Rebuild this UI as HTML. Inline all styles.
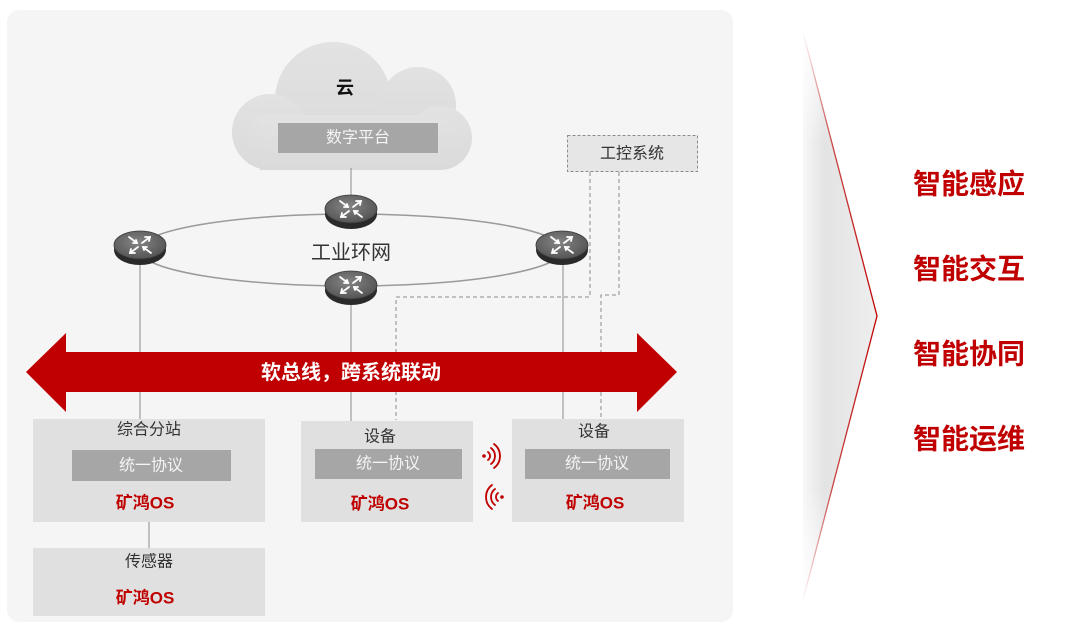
<!DOCTYPE html>
<html>
<head>
<meta charset="utf-8">
<style>
  html,body{margin:0;padding:0;background:#ffffff;}
  body{width:1080px;height:632px;overflow:hidden;}
  svg{display:block;}
  text{font-family:"Liberation Sans","Noto Sans CJK SC",sans-serif;}
</style>
</head>
<body>
<svg width="1080" height="632" viewBox="0 0 1080 632" xmlns="http://www.w3.org/2000/svg">
  <defs>
    <radialGradient id="rtop" cx="0.45" cy="0.4" r="0.7">
      <stop offset="0" stop-color="#858585"/>
      <stop offset="1" stop-color="#4c4c4c"/>
    </radialGradient>
    <linearGradient id="cloudg" x1="0" y1="0" x2="0" y2="1">
      <stop offset="0" stop-color="#e2e2e2"/>
      <stop offset="1" stop-color="#dadada"/>
    </linearGradient>
    <linearGradient id="chevH" gradientUnits="userSpaceOnUse" x1="795" y1="0" x2="880" y2="0">
      <stop offset="0" stop-color="#ffffff"/>
      <stop offset="0.35" stop-color="#e3e3e3"/>
      <stop offset="1" stop-color="#efefef"/>
    </linearGradient>
    <linearGradient id="chevV" gradientUnits="userSpaceOnUse" x1="0" y1="28" x2="0" y2="604">
      <stop offset="0" stop-color="#000"/>
      <stop offset="0.2" stop-color="#fff"/>
      <stop offset="0.8" stop-color="#fff"/>
      <stop offset="1" stop-color="#000"/>
    </linearGradient>
    <mask id="chevMask">
      <rect x="780" y="0" width="120" height="632" fill="url(#chevV)"/>
    </mask>
    <linearGradient id="redLine" gradientUnits="userSpaceOnUse" x1="0" y1="30" x2="0" y2="602">
      <stop offset="0" stop-color="#c00000" stop-opacity="0"/>
      <stop offset="0.2" stop-color="#c00000" stop-opacity="0.7"/>
      <stop offset="0.5" stop-color="#c00000" stop-opacity="1"/>
      <stop offset="0.8" stop-color="#c00000" stop-opacity="0.7"/>
      <stop offset="1" stop-color="#c00000" stop-opacity="0"/>
    </linearGradient>
    <g id="router">
      <ellipse cx="0" cy="5" rx="26" ry="15" fill="#2a2a2a"/>
      <ellipse cx="0" cy="0" rx="26" ry="14" fill="url(#rtop)" stroke="#3a3a3a" stroke-width="0.8"/>
      <g stroke="#ffffff" stroke-width="1.8" fill="none" stroke-linecap="round">
        <line x1="2" y1="-2" x2="10" y2="-8"/>
        <polyline points="5,-8 10,-8 9,-4"/>
        <line x1="-2" y1="2" x2="-10" y2="8"/>
        <polyline points="-5,8 -10,8 -9,4"/>
        <line x1="-11" y1="-8" x2="-3" y2="-2"/>
        <polyline points="-7,-2 -3,-2 -4,-5"/>
        <line x1="11" y1="8" x2="3" y2="2"/>
        <polyline points="7,2 3,2 4,5"/>
      </g>
    </g>
  </defs>

  <!-- left panel -->
  <rect x="7" y="10" width="726" height="612" rx="12" ry="12" fill="#f5f5f5"/>

  <!-- right chevron -->
  <polygon points="803,30 878,316 803,602" fill="url(#chevH)" mask="url(#chevMask)"/>
  <polyline points="803,32 877,316 803,600" fill="none" stroke="url(#redLine)" stroke-width="1.3"/>

  <!-- cloud -->
  <g fill="url(#cloudg)">
    <circle cx="333" cy="100" r="58"/>
    <circle cx="270" cy="132" r="38"/>
    <circle cx="418" cy="105" r="38"/>
    <circle cx="440" cy="138" r="32"/>
    <rect x="248" y="115" width="210" height="55" rx="20" ry="20"/>
    <rect x="260" y="120" width="180" height="50"/>
  </g>
  <text x="345" y="88" font-size="18" font-weight="bold" fill="#111" text-anchor="middle" dominant-baseline="central">云</text>
  <rect x="278" y="123" width="160" height="30" fill="#a6a6a6"/>
  <text x="358" y="138" font-size="16" fill="#f4f4f4" text-anchor="middle" dominant-baseline="central">数字平台</text>

  <!-- cloud to router -->
  <line x1="351" y1="168" x2="351" y2="198" stroke="#8a8a8a" stroke-width="1"/>

  <!-- 工控系统 -->
  <rect x="567.5" y="135.5" width="130" height="36" fill="#e6e6e6" stroke="#8c8c8c" stroke-width="1" stroke-dasharray="3,2"/>
  <text x="632" y="154" font-size="16" fill="#333" text-anchor="middle" dominant-baseline="central">工控系统</text>

  <!-- dashed connectors -->
  <g fill="none" stroke="#8c8c8c" stroke-width="1" stroke-dasharray="4,3">
    <polyline points="590,172 590,297 396,297 396,420"/>
    <polyline points="619,172 619,295 601,295 601,420"/>
  </g>

  <!-- solid verticals -->
  <g stroke="#8a8a8a" stroke-width="1">
    <line x1="140" y1="262" x2="140" y2="419"/>
    <line x1="351" y1="300" x2="351" y2="421"/>
    <line x1="563" y1="262" x2="563" y2="419"/>
    <line x1="149" y1="522" x2="149" y2="548"/>
  </g>

  <!-- ring -->
  <ellipse cx="351" cy="250" rx="212" ry="36" fill="none" stroke="#9a9a9a" stroke-width="1.5"/>
  <text x="351" y="253" font-size="20" fill="#333" text-anchor="middle" dominant-baseline="central">工业环网</text>

  <!-- routers -->
  <use href="#router" x="351" y="209"/>
  <use href="#router" x="140" y="245"/>
  <use href="#router" x="562" y="245"/>
  <use href="#router" x="351" y="285"/>

  <!-- red double arrow -->
  <polygon points="26,372 66,333 66,352 637,352 637,333 677,372 637,412 637,392 66,392 66,412" fill="#c00000"/>
  <text x="351" y="373" font-size="20" font-weight="bold" fill="#ffffff" text-anchor="middle" dominant-baseline="central">软总线，跨系统联动</text>

  <!-- 综合分站 box -->
  <rect x="33" y="419" width="232" height="103" fill="#e0e0e0"/>
  <text x="149" y="430" font-size="16" fill="#333" text-anchor="middle" dominant-baseline="central">综合分站</text>
  <rect x="72" y="450" width="159" height="31" fill="#a6a6a6"/>
  <text x="151" y="466" font-size="16" fill="#f4f4f4" text-anchor="middle" dominant-baseline="central">统一协议</text>
  <text x="145" y="503" font-size="17" font-weight="bold" fill="#c00000" text-anchor="middle" dominant-baseline="central">矿鸿OS</text>

  <!-- 传感器 box -->
  <rect x="33" y="548" width="232" height="68" fill="#e0e0e0"/>
  <text x="149" y="562" font-size="16" fill="#333" text-anchor="middle" dominant-baseline="central">传感器</text>
  <text x="145" y="598" font-size="17" font-weight="bold" fill="#c00000" text-anchor="middle" dominant-baseline="central">矿鸿OS</text>

  <!-- middle device -->
  <rect x="301" y="421" width="172" height="101" fill="#e0e0e0"/>
  <text x="380" y="437" font-size="16" fill="#333" text-anchor="middle" dominant-baseline="central">设备</text>
  <rect x="315" y="449" width="147" height="30" fill="#a6a6a6"/>
  <text x="388" y="464" font-size="16" fill="#f4f4f4" text-anchor="middle" dominant-baseline="central">统一协议</text>
  <text x="380" y="504" font-size="17" font-weight="bold" fill="#c00000" text-anchor="middle" dominant-baseline="central">矿鸿OS</text>

  <!-- right device -->
  <rect x="512" y="419" width="172" height="103" fill="#e0e0e0"/>
  <text x="594" y="432" font-size="16" fill="#333" text-anchor="middle" dominant-baseline="central">设备</text>
  <rect x="525" y="449" width="145" height="30" fill="#a6a6a6"/>
  <text x="597" y="464" font-size="16" fill="#f4f4f4" text-anchor="middle" dominant-baseline="central">统一协议</text>
  <text x="595" y="503" font-size="17" font-weight="bold" fill="#c00000" text-anchor="middle" dominant-baseline="central">矿鸿OS</text>

  <!-- wireless icons -->
  <g fill="none" stroke="#c00000" stroke-width="1.8" stroke-linecap="round">
    <circle cx="484" cy="456" r="1.8" fill="#c00000" stroke="none"/>
    <path d="M488,452 A5,5 0 0 1 488,460"/>
    <path d="M491,448 A10,10 0 0 1 491,464"/>
    <path d="M494,444 A15,15 0 0 1 494,468"/>
    <circle cx="502" cy="497" r="1.8" fill="#c00000" stroke="none"/>
    <path d="M498,493 A5,5 0 0 0 498,501"/>
    <path d="M495,489 A10,10 0 0 0 495,505"/>
    <path d="M492,485 A15,15 0 0 0 492,509"/>
  </g>

  <!-- right labels -->
  <g font-size="28" font-weight="bold" fill="#c00000">
    <text x="913" y="184" dominant-baseline="central">智能感应</text>
    <text x="913" y="269" dominant-baseline="central">智能交互</text>
    <text x="913" y="354" dominant-baseline="central">智能协同</text>
    <text x="913" y="439" dominant-baseline="central">智能运维</text>
  </g>
</svg>
</body>
</html>
